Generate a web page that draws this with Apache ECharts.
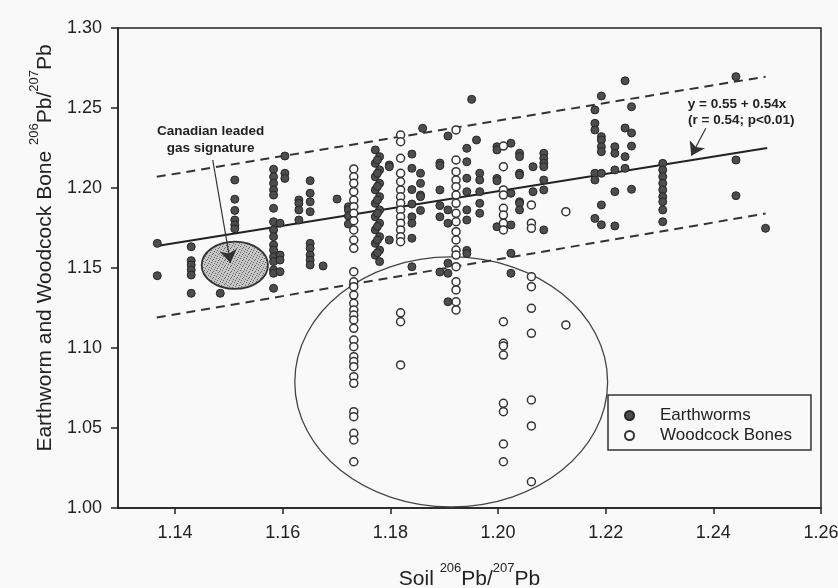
<!DOCTYPE html>
<html>
<head>
<meta charset="utf-8">
<script src="https://cdn.jsdelivr.net/npm/echarts/dist/echarts.min.js"></script>
<style>
html,body{margin:0;padding:0;background:#f9f9f9;}
#c{width:838px;height:588px;}
</style>
</head>
<body>
<div id="c"></div>
<script>
// ---- tick labels ----
const xTicks = [1.14, 1.16, 1.18, 1.20, 1.22, 1.24, 1.26];
const yMin = 1.00, yMax = 1.30, yStep = 0.05;

// ---- Earthworm data: columns of soil ratio (x) with worm ratios (y) ----
const ewX = [1.1367, 1.1430, 1.1484, 1.1511, 1.1583, 1.1595, 1.1604, 1.1630, 1.1651, 1.1675,
             1.1701, 1.1722, 1.1772, 1.1780, 1.1776, 1.1798, 1.1840, 1.1856, 1.1860, 1.1892,
             1.1907, 1.1942, 1.1951, 1.1960, 1.1966, 1.1998, 1.2024, 1.2040, 1.2065, 1.2085,
             1.2180, 1.2192, 1.2217, 1.2236, 1.2248, 1.2306, 1.2442, 1.2497];
const ewY = [
  [1.1654, 1.1452],
  [1.1633, 1.1546, 1.1519, 1.1488, 1.1456, 1.1342],
  [1.1342],
  [1.2050, 1.1930, 1.1860, 1.1800, 1.1770, 1.1745],
  [1.2117, 1.2070, 1.2029, 1.1988, 1.1956, 1.1873, 1.1789, 1.1738, 1.1696, 1.1644, 1.1612, 1.1571, 1.1540, 1.1488, 1.1467, 1.1373],
  [1.1780, 1.1581, 1.1550, 1.1477],
  [1.2200, 1.2092, 1.2060],
  [1.1925, 1.1904, 1.1863, 1.1800],
  [1.2046, 1.1967, 1.1914, 1.1852, 1.1654, 1.1623, 1.1581, 1.1550, 1.1519],
  [1.1513],
  [1.1931],
  [1.1883, 1.1863, 1.1825, 1.1775],
  [1.2238, 1.2154, 1.2070, 1.1988, 1.1904, 1.1820, 1.1738, 1.1654, 1.1580],
  [1.2196, 1.2113, 1.2029, 1.1946, 1.1863, 1.1780, 1.1696, 1.1612, 1.1540],
  [1.2175, 1.2092, 1.2010, 1.1925, 1.1842, 1.1760, 1.1675, 1.1595],
  [1.2144, 1.2133, 1.1675],
  [1.2212, 1.2123, 1.1990, 1.1900, 1.1820, 1.1780, 1.1686, 1.1508],
  [1.2092, 1.2029, 1.1956, 1.1946, 1.1860],
  [1.2373],
  [1.2156, 1.2140, 1.1988, 1.1890, 1.1820, 1.1475],
  [1.2325, 1.1863, 1.1780, 1.1530, 1.1467, 1.1289],
  [1.2248, 1.2164, 1.2061, 1.1977, 1.1863, 1.1800, 1.1610, 1.1590],
  [1.2554],
  [1.2300],
  [1.2092, 1.2050, 1.1977, 1.1904, 1.1842],
  [1.2258, 1.2238, 1.2060, 1.2045, 1.1758],
  [1.2280, 1.1967, 1.1769, 1.1592, 1.1467],
  [1.2217, 1.2196, 1.2092, 1.2081, 1.1914, 1.1904, 1.1863],
  [1.2133, 1.1977],
  [1.2217, 1.2186, 1.2155, 1.2133, 1.2050, 1.1988, 1.1738],
  [1.2488, 1.2404, 1.2363, 1.2092, 1.2050, 1.1810],
  [1.2575, 1.2321, 1.2300, 1.2258, 1.2227, 1.2092, 1.1894, 1.1770],
  [1.2258, 1.2217, 1.2113, 1.1977, 1.1763],
  [1.2670, 1.2375, 1.2196, 1.2123],
  [1.2508, 1.2344, 1.2262, 1.1992],
  [1.2154, 1.2113, 1.2071, 1.2029, 1.1988, 1.1946, 1.1914, 1.1863, 1.1789],
  [1.2696, 1.2175, 1.1952],
  [1.1748]
];

// ---- Woodcock bone data ----
const wcX = [1.1732, 1.1819, 1.1922, 1.2010, 1.2062, 1.2126];
const wcY = [
  [1.2119, 1.2070, 1.2029, 1.1977, 1.1925, 1.1883, 1.1842, 1.1796, 1.1738, 1.1675, 1.1623, 1.1477, 1.1414, 1.1383, 1.1331, 1.1279, 1.1238, 1.1206, 1.1175, 1.1123, 1.1050, 1.1008, 1.0946, 1.0915, 1.0883, 1.0821, 1.0779, 1.0602, 1.0571, 1.0467, 1.0425, 1.0289],
  [1.2331, 1.2289, 1.2186, 1.2092, 1.2039, 1.1988, 1.1945, 1.1904, 1.1863, 1.1820, 1.1780, 1.1738, 1.1696, 1.1664, 1.1220, 1.1164, 1.0894],
  [1.2363, 1.2175, 1.2102, 1.2050, 1.2008, 1.1956, 1.1904, 1.1842, 1.1789, 1.1727, 1.1675, 1.1612, 1.1581, 1.1508, 1.1414, 1.1363, 1.1289, 1.1238],
  [1.2262, 1.2133, 1.1988, 1.1956, 1.1873, 1.1831, 1.1780, 1.1738, 1.1164, 1.1029, 1.1013, 1.0956, 1.0654, 1.0602, 1.0400, 1.0289],
  [1.1894, 1.1780, 1.1748, 1.1446, 1.1383, 1.1248, 1.1092, 1.0675, 1.0513, 1.0164],
  [1.1852, 1.1144]
];

// ---- regression line and band (end points) ----
const regLine   = [[1.1366, 1.1638], [1.2500, 1.2250]];
const upperBand = [[1.1366, 1.2070], [1.2497, 1.2696]];
const lowerBand = [[1.1366, 1.1190], [1.2497, 1.1840]];

// ---- ellipses: [centerX, centerY, radiusX, radiusY] in data units ----
const woodcockEllipse = [1.1913, 1.0788, 0.02906, 0.0781];
const canadianEllipse = [1.1511, 1.1517, 0.00616, 0.0148];

// ---- annotations ----
const noteText = ['Canadian leaded', 'gas signature', 'y = 0.55 + 0.54x', '(r = 0.54; p<0.01)'];
const noteX = [1.1466, 1.1466, 1.2444, 1.2452];
const noteY = [1.2356, 1.2248, 1.2523, 1.2425];
const arrowLines = [
  [[1.1470, 1.2175], [1.1503, 1.1531]],
  [[1.2386, 1.2373], [1.2359, 1.2202]]
];

const ewPts = [];
ewX.forEach((x, i) => ewY[i].forEach(y => ewPts.push([x, y])));
const wcPts = [];
wcX.forEach((x, i) => wcY[i].forEach(y => wcPts.push([x, y])));

const FONT = '"Liberation Sans", Arial, Helvetica, sans-serif';
const INK = '#222';

// stippled fill for the Canadian gas signature ellipse
const stipple = document.createElement('canvas');
stipple.width = 6; stipple.height = 6;
(function () {
  const g = stipple.getContext('2d');
  g.fillStyle = '#c4c4c4'; g.fillRect(0, 0, 6, 6);
  g.fillStyle = '#666';
  [[0, 0], [3, 1], [5, 3], [1, 4], [4, 5], [2, 2]].forEach(p => g.fillRect(p[0], p[1], 1, 1));
})();

const chart = echarts.init(document.getElementById('c'));

function ellipseRenderer(fill, stroke, lw) {
  return function (params, api) {
    const c = api.coord([api.value(0), api.value(1)]);
    const s = api.size([api.value(2), api.value(3)]);
    return {
      type: 'ellipse',
      shape: { cx: c[0], cy: c[1], rx: s[0], ry: s[1] },
      style: { fill: fill, stroke: stroke, lineWidth: lw }
    };
  };
}

const titleRich = {
  t: { fontSize: 21, fontFamily: FONT, color: INK, verticalAlign: 'bottom', lineHeight: 28 },
  s: { fontSize: 13, fontFamily: FONT, color: INK, verticalAlign: 'top', lineHeight: 28 }
};

chart.setOption({
  backgroundColor: '#f9f9f9',
  animation: false,
  textStyle: { fontFamily: FONT },
  grid: { left: 118, right: 17, top: 28, bottom: 80, outerBoundsMode: 'none', containLabel: false,
          show: true, borderColor: INK, borderWidth: 1.5 },
  legend: {
    left: 608, top: 395, orient: 'vertical',
    borderColor: '#333', borderWidth: 1.5, borderRadius: 0,
    padding: [12, 19, 6, 16], itemGap: 3, itemWidth: 9, itemHeight: 9,
    textStyle: { fontSize: 17, color: INK, fontFamily: FONT, padding: [0, 0, 0, 21] },
    data: [{ name: 'Earthworms', icon: 'circle' }, { name: 'Woodcock Bones', icon: 'circle' }]
  },
  xAxis: {
    type: 'value', min: 1.1294, max: 1.26,
    splitLine: { show: false },
    axisLine: { onZero: false, lineStyle: { color: INK, width: 1.5 } },
    axisTick: { customValues: xTicks, length: 6, lineStyle: { color: INK, width: 1.5 } },
    axisLabel: { customValues: xTicks, formatter: v => v.toFixed(2), fontSize: 18, color: INK, margin: 16, fontFamily: FONT },
    name: '{t|Soil }{s|206}{t|Pb/}{s|207}{t|Pb}',
    nameLocation: 'middle', nameGap: 54,
    nameTextStyle: { fontFamily: FONT, color: INK, rich: titleRich }
  },
  yAxis: {
    type: 'value', min: yMin, max: yMax, interval: yStep,
    splitLine: { show: false },
    axisLine: { onZero: false, lineStyle: { color: INK, width: 1.5 } },
    axisTick: { length: 7, lineStyle: { color: INK, width: 1.5 } },
    axisLabel: { formatter: v => v.toFixed(2), fontSize: 18, color: INK, margin: 16, fontFamily: FONT },
    name: '{t|Earthworm and Woodcock Bone }{s|206}{t|Pb/}{s|207}{t|Pb}',
    nameLocation: 'middle', nameGap: 62, nameRotate: 90,
    nameTextStyle: { fontFamily: FONT, color: INK, rich: titleRich, padding: [0, 0, 0, 40] }
  },
  series: [
    {
      name: 'woodcockEllipse', type: 'custom', z: 1, silent: true,
      renderItem: ellipseRenderer('none', '#444', 1.3),
      data: [woodcockEllipse]
    },
    {
      name: 'canadianEllipse', type: 'custom', z: 1, silent: true,
      renderItem: ellipseRenderer({ image: stipple, repeat: 'repeat' }, '#333', 1.8),
      data: [canadianEllipse]
    },
    {
      name: 'regression', type: 'line', data: regLine, showSymbol: false, z: 2,
      lineStyle: { color: INK, width: 2 }
    },
    {
      name: 'upper', type: 'line', data: upperBand, showSymbol: false, z: 2,
      lineStyle: { color: '#333', width: 2, type: [9, 6] }
    },
    {
      name: 'lower', type: 'line', data: lowerBand, showSymbol: false, z: 2,
      lineStyle: { color: '#333', width: 2, type: [9, 6] }
    },
    {
      name: 'Earthworms', type: 'scatter', data: ewPts, symbol: 'circle', symbolSize: 8, z: 3,
      itemStyle: { color: '#4d4d4d', borderColor: '#262626', borderWidth: 1, opacity: 1 }
    },
    {
      name: 'Woodcock Bones', type: 'scatter', data: wcPts, symbol: 'circle', symbolSize: 8, z: 4,
      itemStyle: { color: '#ffffff', borderColor: '#333', borderWidth: 1.5, opacity: 1 }
    },
    {
      name: 'arrows', type: 'lines', coordinateSystem: 'cartesian2d', z: 5,
      symbol: ['none', 'arrow'], symbolSize: [6, 13],
      lineStyle: { color: '#333', width: 1.2, opacity: 1, curveness: 0 },
      data: arrowLines.map(c => ({ coords: c }))
    },
    {
      name: 'notes', type: 'custom', z: 6, silent: true,
      renderItem: function (params, api) {
        const c = api.coord([api.value(0), api.value(1)]);
        return {
          type: 'text', x: c[0], y: c[1],
          style: {
            text: noteText[params.dataIndex], fill: INK,
            font: 'bold 13.5px ' + FONT, align: 'center', verticalAlign: 'middle'
          }
        };
      },
      data: noteX.map((x, i) => [x, noteY[i]])
    }
  ]
});
</script>
</body>
</html>
